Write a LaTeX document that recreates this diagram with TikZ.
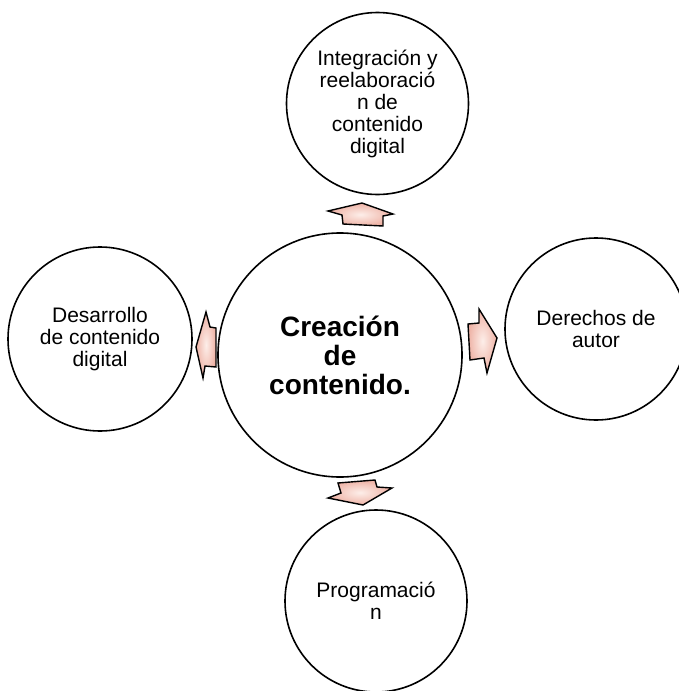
\documentclass[tikz,border=0pt]{standalone}
\usepackage{fontspec}
\setmainfont{Liberation Sans}
\definecolor{arrowpink}{RGB}{238,178,165}
\definecolor{arrowglow}{RGB}{253,238,233}
\begin{document}
\begin{tikzpicture}[x=1pt,y=-1pt,
  bubble/.style={circle, draw=black, line width=1.6pt, minimum size=#1,
    inner sep=0pt, align=center, font=\fontsize{21}{22}\selectfont},
  hub/.style={bubble=#1, font=\fontsize{28}{29}\selectfont\bfseries},
  flow/.style={draw=black, line width=1.4pt, line join=miter,
    inner color=arrowglow, outer color=arrowpink}]
% canvas
\fill[white] (0,0) rectangle (679,691);
\useasboundingbox (0,0) rectangle (679,691);

% circles
\node[hub=244pt] (core) at (340,355) {Creaci\'on\\de\\contenido.};
\node[bubble=182pt] (top) at (377.5,103.5)
  {Integraci\'on y\\reelaboraci\'o\\n de\\contenido\\digital};
\node[bubble=182pt] (right) at (596,329) {Derechos de\\autor};
\node[bubble=184pt] (left) at (100,339) {Desarrollo\\de contenido\\digital};
\node[bubble=182pt] (bottom) at (376,601) {Programaci\'o\\n};

% block arrows from the hub to the outer circles
\draw[flow] (328,211) -- (362,203) -- (393,214) -- (383,216) -- (383,226)
  -- (343,224) -- (342,215) -- cycle;
\draw[flow] (468,324) -- (479,323) -- (479,309) -- (497,338) -- (487,373)
  -- (484,358) -- (470,360) -- cycle;
\draw[flow] (196,347) -- (206,312) -- (210,327) -- (216,328) -- (216,367)
  -- (205,366) -- (203,378) -- cycle;
\draw[flow] (338,483) -- (375,480) -- (377,487) -- (392,488) -- (363,505)
  -- (328,498) -- (341,493) -- cycle;
\end{tikzpicture}
\end{document}
